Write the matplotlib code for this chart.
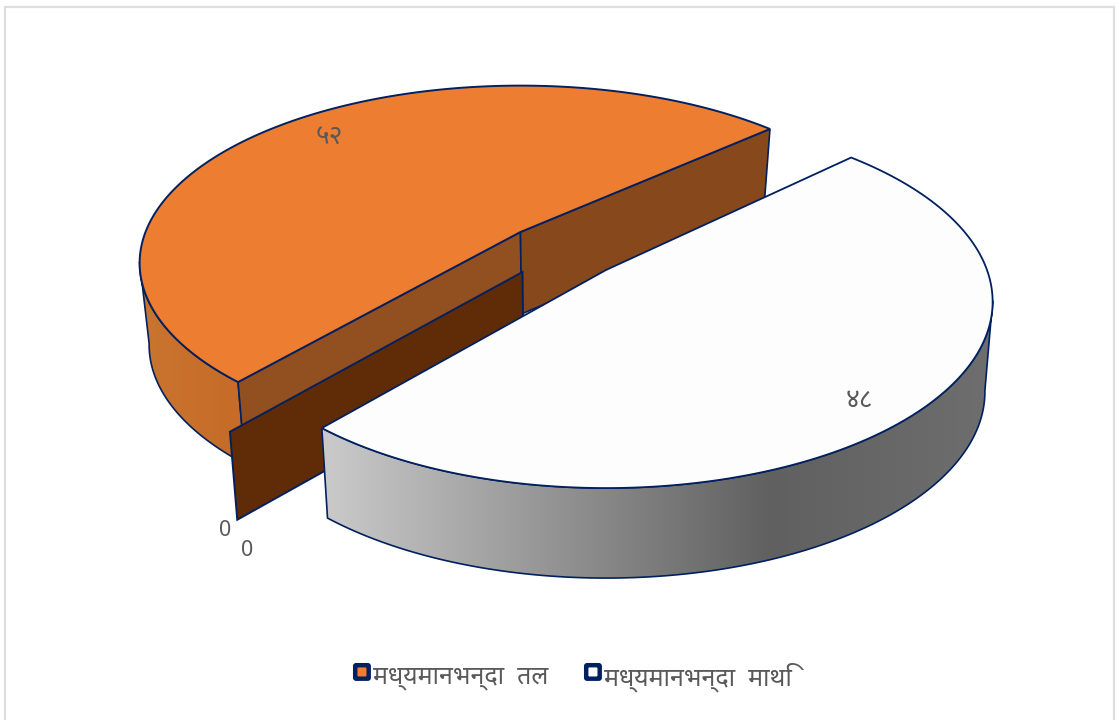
import numpy as np
import matplotlib
matplotlib.use('Agg')
import matplotlib.pyplot as plt
from matplotlib.patches import Polygon, Rectangle, FancyBboxPatch

plt.rcParams['font.family'] = ['Noto Sans', 'DejaVu Sans']

# values as printed on the chart
values = [52, 48, 0, 0]
value_labels = ['५२', '४८', '0', '0']
categories = ['मध्यमानभन्दा  तल', 'मध्यमानभन्दा  माथि']

NAVY = '#002060'
ORANGE = '#ED7D31'
TOP_WHITE = '#FDFDFD'
TEXT = '#595959'


def ring(t, a, b, p, cx, cy, s=1.0, drop=0.0):
    # circle seen in perspective, t in degrees. s narrows the lower rim only in x
    r = np.radians(t)
    k = 1 / (1 + p * np.sin(r))
    return np.column_stack([cx + s * a * np.cos(r) * k, cy + drop - b * np.sin(r) * k])


def sweep(value):
    return value / sum(values) * 360


def grad_fill(ax, pts, xs, cols, z):
    # horizontal gradient clipped to a polygon
    x0, x1 = pts[:, 0].min(), pts[:, 0].max()
    y0, y1 = pts[:, 1].min(), pts[:, 1].max()
    grid = np.linspace(x0, x1, 400)
    rgb = np.array([matplotlib.colors.to_rgb(c) for c in cols])
    img = np.stack([np.interp(grid, xs, rgb[:, i]) for i in range(3)], axis=1)[None, :, :]
    im = ax.imshow(img, extent=(x0, x1, y1, y0), aspect='auto', zorder=z, interpolation='bilinear')
    clip = Polygon(pts, closed=True, transform=ax.transData, fc='none', ec='none')
    ax.add_patch(clip)
    im.set_clip_path(clip)
    ax.add_patch(Polygon(pts, closed=True, fc='none', ec=NAVY, lw=1.2, zorder=z + 0.5))


fig = plt.figure(figsize=(11.16, 7.2), dpi=100)
ax = fig.add_axes([0, 0, 1, 1])
ax.axis('off')

# chart frame, runs off the bottom of the picture
ax.add_patch(Rectangle((5, 7), 1109, 760, fc='white', ec='#DEDEDE', lw=1.6, zorder=0))

start = 42.0
orange_end = start + sweep(values[0])

# orange slice
o = dict(a=375, b=172, p=0.175, cx=520.5, cy=232)
o_low = dict(s=0.975, drop=82)
ts = np.linspace(start, orange_end, 200)
top = ring(ts, **o)
# only the part from the leftmost point on faces the viewer
vis = ts[np.argmin(top[:, 0]):]
band = np.vstack([ring(vis, **o), ring(vis, **o, **o_low)[::-1]])
grad_fill(ax, band, [140, 240], ['#C9752F', '#C66B28'], 1)

for t, col in [(orange_end, '#924F20'), (start, '#87481C')]:
    wall = np.vstack([ring(t, **o), ring(t, **o, **o_low),
                      [[o['cx'] + 1, o['cy'] + o_low['drop']]], [[o['cx'], o['cy']]]])
    ax.add_patch(Polygon(wall, closed=True, fc=col, ec=NAVY, lw=1.2, zorder=2))

ax.add_patch(Polygon(np.vstack([[[o['cx'], o['cy']]], top]), closed=True, fc=ORANGE, ec=NAVY, lw=1.4, zorder=3))

# the two zero slices collapse into one thin wall
z = dict(a=384, b=181, p=0.188, cx=522.5, cy=272)
z_low = dict(s=0.975, drop=88)
z_edge = np.vstack([ring(orange_end + sweep(values[2]), **z), ring(orange_end + sweep(values[3]), **z, **z_low),
                    [[z['cx'] + 1, z['cy'] + z_low['drop']]], [[z['cx'], z['cy']]]])
ax.add_patch(Polygon(z_edge, closed=True, fc='#602C07', ec=NAVY, lw=1.4, zorder=4))

# white slice, the nearer rim opens a little wider than its share
w = dict(a=381, b=181, p=0.17, cx=606, cy=270)
w_low = dict(s=0.98, drop=90)
w_start = orange_end + 0.3
tw = np.linspace(w_start, w_start + sweep(values[1]) + 1.7, 200)
w_top = ring(tw, **w)
vis = tw[:np.argmax(w_top[:, 0]) + 1]
band = np.vstack([ring(vis, **w), ring(vis, **w, **w_low)[::-1]])
grad_fill(ax, band, [325, 770, 990], ['#CACACA', '#606060', '#6E6E6E'], 5)
ax.add_patch(Polygon(np.vstack([[[w['cx'], w['cy']]], w_top]), closed=True, fc=TOP_WHITE, ec=NAVY, lw=1.3, zorder=6))

# data labels
label_pos = [(329, 138), (859, 401), (225, 531), (247, 551)]
label_size = [19, 19, 15.5, 15.5]
for (x, y), s, fs in zip(label_pos, value_labels, label_size):
    ax.text(x, y, s, ha='center', va='center', fontsize=fs, color=TEXT, zorder=7)

# legend
for x, cat, col in zip([353, 584], categories, [ORANGE, 'white']):
    ax.add_patch(FancyBboxPatch((x + 2.2, 665.2), 13.5, 13.5, boxstyle='round,pad=0,rounding_size=1',
                                fc=col, ec=NAVY, lw=3.2, zorder=7))
    ax.text(x + 20, 677, cat, ha='left', va='center', fontsize=18, color=TEXT, zorder=7)

ax.set_xlim(0, 1116)
ax.set_ylim(720, 0)
fig.savefig('out.png', dpi=100)
